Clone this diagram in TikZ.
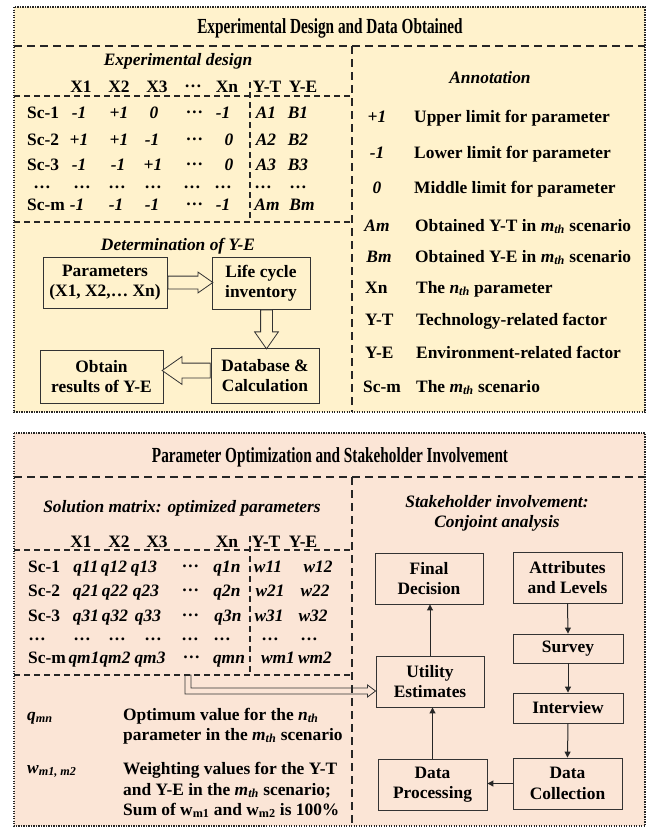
\documentclass[tikz,border=0pt]{standalone}
\usepackage{fontspec}
\setmainfont{Liberation Serif}
\newfontfamily\titlefont[FakeStretch=0.71]{Liberation Serif}
\usetikzlibrary{arrows.meta,shapes.arrows,calc}
\definecolor{topfill}{HTML}{FFF2CC}
\definecolor{botfill}{HTML}{FBE5D6}
\newcommand\bodyfont{\fontsize{17.4}{20.5}\selectfont\bfseries}
\newcommand\titlesize{\fontsize{21.5}{25}\selectfont\titlefont\bfseries}
\newcommand\mdots{\raisebox{0.25em}{…}}
\newcommand\subit[1]{\textsubscript{\textit{#1}}}
\begin{document}
\begin{tikzpicture}[x=1pt,y=-1pt,
  t/.style={font=\bodyfont, inner sep=0pt, anchor=base},
  ti/.style={font=\bodyfont\itshape, inner sep=0pt, anchor=base},
  tl/.style={t, anchor=base west},
  til/.style={ti, anchor=base west},
  ttl/.style={font=\titlesize, inner sep=0pt, anchor=base},
  panel/.style={draw=black!85, line width=1.4pt, dash pattern=on 1.3pt off 1.2pt},
  divider/.style={draw=black!85, line width=1.3pt, dash pattern=on 8pt off 5pt},
  tdiv/.style={draw=black!85, line width=1.1pt, dash pattern=on 6pt off 4pt},
  fbox/.style={draw=black!80, line width=0.9pt, font=\bodyfont, align=center, inner sep=0pt},
  flow/.style={draw=black!85, line width=1pt, -{Triangle[length=6pt,width=6pt]}},
  harrow/.style={single arrow, draw=black!80, fill=topfill, line width=0.8pt, inner sep=0pt, single arrow tip angle=70, anchor=tail},
  hollowshape/.style={draw=black!80, fill=botfill, line width=0.8pt, line join=miter}
]
\useasboundingbox (0,0) rectangle (648,830);

% ---------- panels ----------
\draw[panel, fill=topfill] (14,7) rectangle (645,412);
\draw[panel, fill=botfill] (14,433) rectangle (645,826);

% ---------- top panel texts ----------
\node[ttl] (t1) at (330,33) {Experimental Design and Data Obtained};
\node[ti] (ed) at (178,65) {Experimental design};

\foreach \xx/\s [count=\i] in {81/X1,119/X2,157/X3,193/\mdots,227/Xn,267/Y-T,303/Y-E}
  \node[t] (eh\i) at (\xx,92) {\s};

\node[tl] (er1) at (27,118) {Sc-1};
\foreach \xx/\s [count=\i] in {79/-1,119/+1,154/0,195/\mdots,223/-1,266/A1,298/B1}
  \node[ti] (ea\i) at (\xx,118) {\s};
\node[tl] (er2) at (27,145) {Sc-2};
\foreach \xx/\s [count=\i] in {79/+1,119/+1,152/-1,195/\mdots,229/0,266/A2,298/B2}
  \node[ti] (eb\i) at (\xx,145) {\s};
\node[tl] (er3) at (27,170) {Sc-3};
\foreach \xx/\s [count=\i] in {79/-1,118/-1,153/+1,195/\mdots,229/0,266/A3,298/B3}
  \node[ti] (ec\i) at (\xx,170) {\s};
\foreach \xx [count=\i] in {42,82,117,153,192,223,263,298}
  \node[t] (ed\i) at (\xx,188) {…};
\node[tl] (erm) at (27,210) {Sc-m};
\foreach \xx/\s [count=\i] in {77/-1,116/-1,152/-1,195/\mdots,223/-1,267/Am,302/Bm}
  \node[ti] (em\i) at (\xx,210) {\s};

% annotation
\node[ti] (ann) at (490,83) {Annotation};
\node[ti] (s1) at (377,122) {+1};
\node[ti] (s2) at (377,158) {-1};
\node[ti] (s3) at (377,193) {0};
\node[ti] (s4) at (377,231) {Am};
\node[ti] (s5) at (379,262) {Bm};
\node[tl] (s6) at (365,293) {Xn};
\node[tl] (s7) at (365,325) {Y-T};
\node[tl] (s8) at (365,358) {Y-E};
\node[tl] (s9) at (363,392) {Sc-m};
\node[tl] (d1) at (414,122) {Upper limit for parameter};
\node[tl] (d2) at (414,158) {Lower limit for parameter};
\node[tl] (d3) at (414,193) {Middle limit for parameter};
\node[tl] (d4) at (415,231) {Obtained Y-T in \textit{m}\subit{th} scenario};
\node[tl] (d5) at (415,262) {Obtained Y-E in \textit{m}\subit{th} scenario};
\node[tl] (d6) at (416,293) {The \textit{n}\subit{th} parameter};
\node[tl] (d7) at (416,325) {Technology-related factor};
\node[tl] (d8) at (416,358) {Environment-related factor};
\node[tl] (d9) at (416,392) {The \textit{m}\subit{th} scenario};

% determination of Y-E
\node[ti] (dety) at (178,250) {Determination of Y-E};
\node[fbox, minimum width=124pt, minimum height=51pt] (par) at (105,282.5) {Parameters\\(X1, X2,… Xn)};
\node[fbox, minimum width=98pt, minimum height=52pt] (lci) at (261,283) {Life cycle\\inventory};
\node[fbox, minimum width=108pt, minimum height=55pt] (db) at (265,375.5) {Database \&\\Calculation};
\node[fbox, minimum width=123pt, minimum height=53pt] (obt) at (101.5,376.5) {Obtain\\results of Y-E};

\node[harrow, minimum height=45pt, inner ysep=6pt, single arrow head extend=4pt] (a1) at (par.east) {};
\node[harrow, rotate=-90, minimum height=39pt, inner ysep=5.5pt, single arrow head extend=6pt] (a2) at ($(lci.south)+(5.5,0)$) {};
\node[harrow, rotate=180, minimum height=48pt, inner ysep=7pt, single arrow head extend=6.5pt] (a3) at ($(db.west)+(0,-5)$) {};

% ---------- bottom panel texts ----------
\node[ttl] (t2) at (330,462) {Parameter Optimization and Stakeholder Involvement};
\node[ti] (sm) at (182,512) {Solution matrix: optimized parameters};

\foreach \xx/\s [count=\i] in {81/X1,119/X2,157/X3,227/Xn,266/Y-T,303/Y-E}
  \node[t] (sh\i) at (\xx,547) {\s};

\node[tl] (sr1) at (28,572) {Sc-1};
\foreach \xx/\s [count=\i] in {86/q11,114/q12,144/q13,191/\mdots,227/q1n,268/w11,318/w12}
  \node[ti] (sa\i) at (\xx,572) {\s};
\node[tl] (sr2) at (28,596) {Sc-2};
\foreach \xx/\s [count=\i] in {86/q21,115/q22,146/q23,191/\mdots,227/q2n,270/w21,315/w22}
  \node[ti] (sb\i) at (\xx,596) {\s};
\node[tl] (sr3) at (28,621) {Sc-3};
\foreach \xx/\s [count=\i] in {86/q31,115/q32,148/q33,191/\mdots,228/q3n,269/w31,313/w32}
  \node[ti] (sc\i) at (\xx,621) {\s};
\foreach \xx [count=\i] in {37,82,117,153,190,222,270,309}
  \node[t] (sd\i) at (\xx,640) {…};
\node[tl] (srm) at (28,663) {Sc-m};
\foreach \xx/\s [count=\i] in {84/qm1,115/qm2,150/qm3,192/\mdots,229/qmn,278/wm1,315/wm2}
  \node[ti] (sx\i) at (\xx,663) {\s};

\node[til] (qmn) at (27,720) {q\textsubscript{mn}};
\node[tl] (qd1) at (123,720) {Optimum value for the \textit{n}\subit{th}};
\node[tl] (qd2) at (123,740) {parameter in the \textit{m}\subit{th} scenario};
\node[til] (wmn) at (27,773) {w\textsubscript{m1, m2}};
\node[tl] (wd1) at (123,774) {Weighting values for the Y-T};
\node[tl] (wd2) at (123,795) {and Y-E in the \textit{m}\subit{th} scenario;};
\node[tl] (wd3) at (123,815) {Sum of w\textsubscript{m1} and w\textsubscript{m2} is 100\%};

% stakeholder
\node[ti] (sk1) at (497,507) {Stakeholder involvement:};
\node[ti] (sk2) at (497,527) {Conjoint analysis};
\node[fbox, minimum width=108pt, minimum height=51pt] (fd) at (429,578.5) {Final\\Decision};
\node[fbox, minimum width=109pt, minimum height=51pt] (att) at (567.5,577.5) {Attributes\\and Levels};
\node[fbox, minimum width=110pt, minimum height=29pt] (sur) at (568,648.5) {Survey};
\node[fbox, minimum width=110pt, minimum height=30pt] (int) at (568,708) {Interview};
\node[fbox, minimum width=109pt, minimum height=51pt] (dc) at (567.5,783.5) {Data\\Collection};
\node[fbox, minimum width=109pt, minimum height=51pt] (dp) at (432.5,784.5) {Data\\Processing};
\node[fbox, minimum width=108pt, minimum height=51pt] (ue) at (430,681.5) {Utility\\Estimates};

\draw[flow] (att.south) -- (sur.north);
\draw[flow] (sur.south) -- (int.north);
\draw[flow] (int.south) -- (dc.north);
\draw[flow] (dc.west) -- (dc.west -| dp.east);
\draw[flow] (dp.north) -- (dp.north |- ue.south);
\draw[flow] (ue.north) -- (ue.north |- fd.south);

% hollow connector from qmn to Utility Estimates
\coordinate (qs) at (188,675);
\coordinate (qe) at ($(ue.west)+(0,9.5)$);
\draw[hollowshape] ($(qs)+(-3,0)$) |- ($(qe)+(-8,3)$) -- ($(qe)+(-8,6)$) -- (qe)
   -- ($(qe)+(-8,-6)$) -- ($(qe)+(-8,-3)$) -| ($(qs)+(3,0)$) -- cycle;

% ---------- dividers ----------
\draw[divider] (14,46) -- (645,46);
\draw[divider] (352,46) -- (352,412);
\draw[tdiv] (14,96) -- (352,96);
\draw[tdiv] (250,82) -- (250,221);
\draw[tdiv] (14,222) -- (352,222);

\draw[divider] (14,477) -- (645,477);
\draw[divider] (352,477) -- (352,826);
\draw[tdiv] (14,550) -- (352,550);
\draw[tdiv] (250,536) -- (250,675);
\draw[tdiv] (14,675) -- (352,675);
\end{tikzpicture}
\end{document}
